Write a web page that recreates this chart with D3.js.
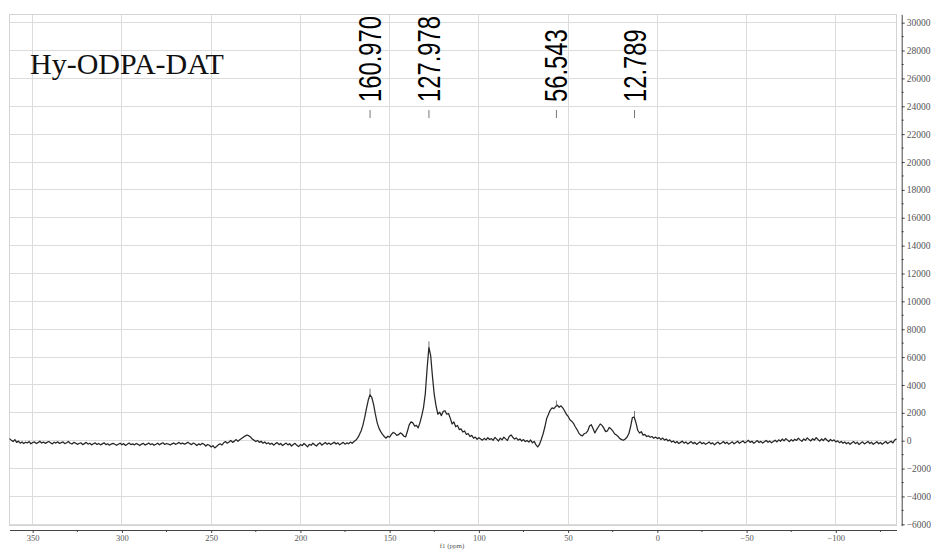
<!DOCTYPE html>
<html>
<head>
<meta charset="utf-8">
<script src="https://cdn.jsdelivr.net/npm/d3@7"></script>
<style>
  html, body { margin: 0; padding: 0; background: #fff; }
  svg { display: block; }
</style>
</head>
<body>
<svg id="chart" width="931" height="550"></svg>
<script>
// 13C solid-state spectrum of Hy-ODPA-DAT, chemical shift axis runs right to left.
const sampleName = "Hy-ODPA-DAT";
const axisTitle = "f1 (ppm)";

// Spectrum sampled every 1 ppm, starting at 363 ppm and descending.
const ppmStart = 363;
const ppmStep = 1;
const intensity = [
  150, 40, -60, 80, -120, -30, -180, -90, -200, -110,        // 363..354
  -160, -60, -220, -130, -90, -200, -140, -40, -170, -100,   // 353..344
  -190, -120, -60, -150, -230, -110, -170, -80, -200, -140,  // 343..334
  -90, -210, -150, -60, -180, -240, -120, -170, -260, -200,  // 333..324
  -150, -280, -210, -120, -250, -180, -300, -220, -160, -270,// 323..314
  -200, -300, -230, -150, -280, -220, -320, -240, -190, -260,// 313..304
  -330, -250, -180, -290, -210, -340, -260, -170, -280, -230,// 303..294
  -300, -200, -260, -350, -240, -190, -310, -250, -170, -280,// 293..284
  -220, -330, -260, -180, -290, -210, -150, -270, -200, -240,// 283..274
  -310, -230, -170, -260, -200, -120, -230, -160, -250, -190,// 273..264
  -110, -210, -280, -170, -240, -350, -230, -300, -190, -260,// 263..254
  -380, -270, -330, -450, -360, -520, -420, -300, -220, -310,// 253..244
  -150, -60, -180, -90, 20, -120, -30, 80, -40, 60,          // 243..234
  150, 240, 330, 410, 360, 270, 120, 40, -60, 20,            // 233..224
  -120, -40, -180, -90, -220, -150, -260, -180, -320, -210,  // 223..214
  -140, -280, -200, -350, -250, -170, -300, -220, -380, -280,// 213..204
  -190, -330, -420, -280, -350, -200, -310, -440, -260, -330,// 203..194
  -180, -290, -380, -240, -150, -320, -220, -130, -260, -170,// 193..184
  -280, -190, -110, -240, -150, -300, -200, -120, -250, -160,// 183..174
  -220, -100, -190, -60, 30, 180, 420, 700, 1100, 1650,      // 173..164
  2300, 2900, 3300, 3100, 2600, 1900, 1300, 900, 650, 450,   // 163..154
  300, 180, 320, 250, 450, 600, 520, 380, 430, 560,          // 153..144
  480, 320, 280, 700, 1150, 1350, 1280, 1050, 1100, 920,     // 143..134
  1300, 1800, 2400, 3400, 5200, 6700, 6100, 4600, 3300, 2500,// 133..124
  1900, 2050, 1800, 2100, 2150, 1900, 1950, 1600, 1200, 1350,// 123..114
  1000, 1100, 800, 850, 620, 700, 450, 520, 300, 380,        // 113..104
  180, 260, 100, 220, 120, 40, 170, 60, 210, 90,             // 103..94
  150, 30, 240, 110, -20, 180, 60, 250, 130, 20,             // 93..84
  300, 420, 250, 120, 200, 40, 130, -20, 80, -60,            // 83..74
  20, -100, 50, -150, -50, -300, -450, -250, 100, 500,       // 73..64
  1000, 1600, 1900, 2200, 2350, 2300, 2450, 2550, 2400, 2500,// 63..54
  2350, 2150, 1900, 1750, 1500, 1400, 1250, 1000, 800, 550,  // 53..44
  400, 350, 500, 550, 700, 1050, 1150, 850, 550, 800,        // 43..34
  1000, 1200, 1100, 900, 650, 700, 950, 850, 700, 500,       // 33..24
  420, 300, 150, 80, 30, 120, 250, 500, 1000, 1650,          // 23..14
  1700, 1300, 750, 550, 650, 400, 450, 300, 350, 250,        // 13..4
  300, 180, 260, 150, 220, 80, 190, 40, 120, -20,            // 3..-6
  60, -100, -20, -160, -60, -200, -120, -30, -180, -90,      // -7..-16
  -230, -140, -60, -210, -120, -270, -170, -80, -220, -140,  // -17..-26
  -260, -180, -90, -230, -150, -300, -190, -100, -240, -160, // -27..-36
  -60, -200, -110, -250, -170, -80, -220, -130, -40, -190,   // -37..-46
  -100, -20, -160, -70, 30, -120, -40, -180, -90, 10,        // -47..-56
  -130, -50, -170, -80, 20, -110, -30, -150, -60, 40,        // -57..-66
  -90, 60, -40, 120, -10, 150, 40, -70, 80, -30,             // -67..-76
  110, 20, 180, 60, -50, 130, 30, 200, 80, -20,              // -77..-86
  140, 40, 220, 90, -30, 120, 10, 170, 50, -60,              // -87..-96
  90, -20, 60, -90, -10, -140, -50, -180, -90, -220,         // -97..-106
  -120, -260, -150, -60, -210, -110, -280, -170, -80, -230,  // -107..-116
  -140, -50, -200, -110, -260, -160, -70, -220, -130, -250,  // -117..-126
  -150, -60, -200, -110, -40, -160, 50, 130                  // -127..-134
];

// Picked peaks
const peakPpm = [160.970, 127.978, 56.543, 12.789];

// Axis ticks
const xTicks = [350, 300, 250, 200, 150, 100, 50, 0, -50, -100];
const xMinorTicks = [325, 275, 225, 175, 125, 75, 25, -25, -75, -125];
const yTicks = [-6000, -4000, -2000, 0, 2000, 4000, 6000, 8000, 10000, 12000, 14000,
                16000, 18000, 20000, 22000, 24000, 26000, 28000, 30000];
const yMinorTicks = [-5000, -3000, -1000, 1000, 3000, 5000, 7000, 9000, 11000, 13000,
                     15000, 17000, 19000, 21000, 23000, 25000, 27000, 29000];

const svg = d3.select("#chart");
const plot = { left: 9.5, right: 896.5, top: 14.3, bottom: 525.7 };

const x = d3.scaleLinear().domain([363, -134]).range([plot.left, plot.right]);
const y = d3.scaleLinear().domain([-6100, 30600]).range([plot.bottom, plot.top]);

const points = intensity.map((v, i) => ({ ppm: ppmStart - i * ppmStep, v }));

const serif = "'Liberation Serif', 'Times New Roman', serif";
const sans = "'Liberation Sans', Arial, sans-serif";
const minus = s => s.replace("-", "\u2212");

// Grid
const grid = svg.append("g").attr("stroke", "#dcdcdc").attr("stroke-width", 1).attr("shape-rendering", "crispEdges");
grid.selectAll("line.v").data(xTicks).join("line")
  .attr("x1", d => x(d)).attr("x2", d => x(d))
  .attr("y1", plot.top).attr("y2", plot.bottom);
grid.selectAll("line.h").data(yTicks).join("line")
  .attr("x1", plot.left).attr("x2", plot.right)
  .attr("y1", d => y(d)).attr("y2", d => y(d));
svg.append("rect")
  .attr("x", plot.left).attr("y", plot.top)
  .attr("width", plot.right - plot.left).attr("height", plot.bottom - plot.top)
  .attr("fill", "none").attr("stroke", "#d4d4d4").attr("shape-rendering", "crispEdges");

// Spectrum trace
const line = d3.line().x(d => x(d.ppm)).y(d => y(d.v));
svg.append("path").datum(points)
  .attr("d", line)
  .attr("fill", "none")
  .attr("stroke", "#262626")
  .attr("stroke-width", 1.25)
  .attr("stroke-linejoin", "round");

// Peak markers on the trace
const nearest = p => points.reduce((a, b) => Math.abs(b.ppm - p) < Math.abs(a.ppm - p) ? b : a);
svg.append("g").selectAll("line").data(peakPpm).join("line")
  .attr("x1", d => x(d)).attr("x2", d => x(d))
  .attr("y1", d => y(nearest(d).v)).attr("y2", d => y(nearest(d).v) - 6)
  .attr("stroke", "#555").attr("stroke-width", 0.8);

// Peak labels
const fmt = d3.format(".3f");
const labels = svg.append("g");
labels.selectAll("text").data(peakPpm).join("text")
  .attr("transform", d => `translate(${x(d) + 11},102) rotate(-90) scale(0.78,1)`)
  .attr("font-family", sans)
  .attr("font-size", 30.5)
  .attr("fill", "#000")
  .text(d => fmt(d));
labels.selectAll("line").data(peakPpm).join("line")
  .attr("x1", d => x(d)).attr("x2", d => x(d))
  .attr("y1", 110).attr("y2", 118)
  .attr("stroke", "#777").attr("stroke-width", 1);

// Sample name
svg.append("text")
  .attr("x", 30).attr("y", 74)
  .attr("font-family", serif)
  .attr("font-size", 30)
  .attr("fill", "#111")
  .text(sampleName);

// X axis
const xAxis = d3.axisBottom(x).tickValues(xTicks).tickSize(3).tickSizeOuter(0)
  .tickFormat(d => minus(String(d)));
const gx = svg.append("g").attr("transform", "translate(0,530)").call(xAxis);
gx.select(".domain").attr("stroke", "#444");
gx.selectAll(".tick line").attr("stroke", "#444");
gx.selectAll(".tick text").attr("font-family", serif).attr("font-size", 8.5).attr("fill", "#555").attr("dy", "0.55em");
gx.append("g").selectAll("line").data(xMinorTicks).join("line")
  .attr("x1", d => x(d)).attr("x2", d => x(d)).attr("y1", 0).attr("y2", 2).attr("stroke", "#444");
svg.append("text")
  .attr("x", 452).attr("y", 548)
  .attr("text-anchor", "middle")
  .attr("font-family", serif).attr("font-size", 7)
  .attr("fill", "#555")
  .text(axisTitle);

// Y axis on the right
const yAxis = d3.axisRight(y).tickValues(yTicks).tickSize(3).tickSizeOuter(0)
  .tickFormat(d => minus(String(d)));
const gy = svg.append("g").attr("transform", "translate(901.7,0)").call(yAxis);
gy.select(".domain").attr("stroke", "#444");
gy.selectAll(".tick line").attr("stroke", "#444");
gy.selectAll(".tick text").attr("font-family", serif).attr("font-size", 9.5).attr("fill", "#555").attr("x", 5);
gy.append("g").selectAll("line").data(yMinorTicks).join("line")
  .attr("x1", 0).attr("x2", 2).attr("y1", d => y(d)).attr("y2", d => y(d)).attr("stroke", "#444");
</script>
</body>
</html>
